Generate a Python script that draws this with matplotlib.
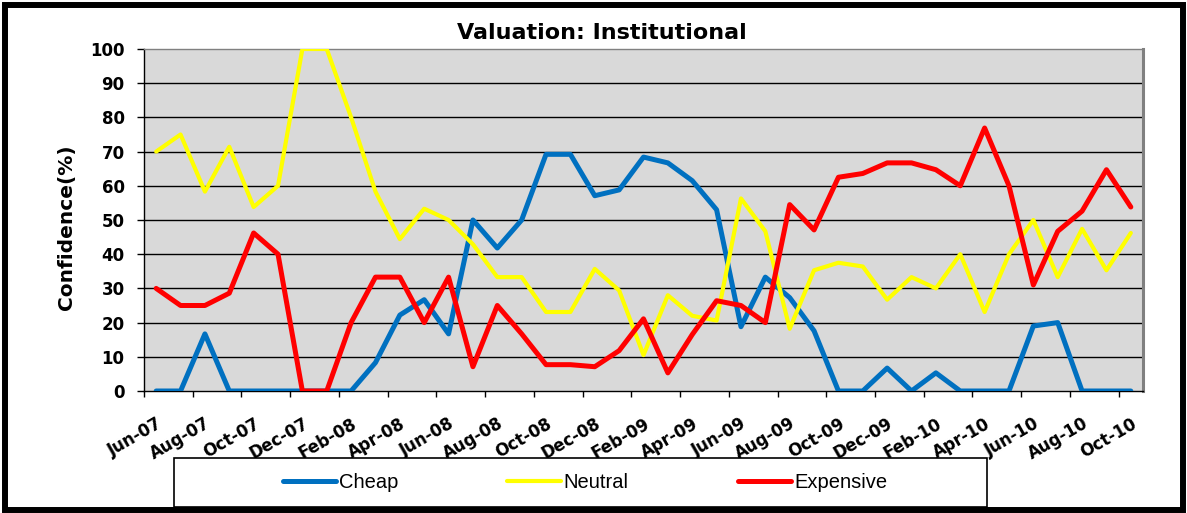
import matplotlib
matplotlib.use('Agg')
import matplotlib.pyplot as plt
from matplotlib.patches import Rectangle
from matplotlib.lines import Line2D

months = ["Jun-07", "Jul-07", "Aug-07", "Sep-07", "Oct-07", "Nov-07", "Dec-07",
          "Jan-08", "Feb-08", "Mar-08", "Apr-08", "May-08", "Jun-08", "Jul-08",
          "Aug-08", "Sep-08", "Oct-08", "Nov-08", "Dec-08", "Jan-09", "Feb-09",
          "Mar-09", "Apr-09", "May-09", "Jun-09", "Jul-09", "Aug-09", "Sep-09",
          "Oct-09", "Nov-09", "Dec-09", "Jan-10", "Feb-10", "Mar-10", "Apr-10",
          "May-10", "Jun-10", "Jul-10", "Aug-10", "Sep-10", "Oct-10"]

cheap = [0, 0, 16.7, 0, 0, 0, 0, 0, 0, 8.3, 22.2, 26.7, 16.7, 50, 41.8, 50,
         69.2, 69.2, 57.1, 58.8, 68.4, 66.7, 61.5, 53, 18.8, 33.3, 27.3, 17.6,
         0, 0, 6.7, 0, 5.3, 0, 0, 0, 19, 20, 0, 0, 0]
neutral = [70, 75, 58.3, 71.4, 53.8, 60, 100, 100, 80, 58.3, 44.4, 53.3, 50,
           42.9, 33.3, 33.3, 23.1, 23.1, 35.7, 29.4, 10.5, 28, 22, 20.6, 56.3,
           46.7, 18.2, 35.3, 37.5, 36.4, 26.7, 33.3, 30, 40, 23.1, 40, 50, 33.3,
           47.4, 35.3, 46.2]
expensive = [30, 25, 25, 28.6, 46.2, 40, 0, 0, 20, 33.3, 33.3, 20, 33.3, 7.1,
             25, 16.7, 7.7, 7.7, 7.1, 11.8, 21.1, 5.3, 16.5, 26.4, 25, 20, 54.5,
             47.1, 62.5, 63.6, 66.7, 66.7, 64.7, 60, 76.9, 60, 31, 46.7, 52.6,
             64.7, 53.8]

series_names = ["Cheap", "Neutral", "Expensive"]
tick_labels = ["Jun-07", "Aug-07", "Oct-07", "Dec-07", "Feb-08", "Apr-08",
               "Jun-08", "Aug-08", "Oct-08", "Dec-08", "Feb-09", "Apr-09",
               "Jun-09", "Aug-09", "Oct-09", "Dec-09", "Feb-10", "Apr-10",
               "Jun-10", "Aug-10", "Oct-10"]

W, H = 1187, 513
fig = plt.figure(figsize=(W / 100, H / 100), dpi=100)
fig.patch.set_facecolor('white')


def fx(px):
    return px / W


def fy(py):
    return 1 - py / H


ax = fig.add_axes([fx(144), fy(391), (1143 - 144) / W, (391 - 49) / H])
ax.set_facecolor('#D9D9D9')

x = list(range(len(months)))
colors = ['#0070C0', '#FFFF00', '#FF0000']
widths = [3.6, 3.0, 3.6]
handles = []
for vals, name, c, lw in zip([cheap, neutral, expensive], series_names, colors, widths):
    ln, = ax.plot(x, vals, color=c, lw=lw, label=name, solid_joinstyle='round',
                  solid_capstyle='round', zorder=3)
    handles.append(ln)

ax.set_xlim(-0.5, len(months) - 0.5)
ax.set_ylim(0, 100)
ax.set_yticks(range(0, 101, 10))
ax.yaxis.grid(True, color='black', lw=1.0)
ax.set_axisbelow(True)
gl = ax.yaxis.get_gridlines()
gl[-1].set_visible(False)
gl[0].set_visible(False)

# x ticks: marks at category boundaries, labels at every 2nd category
boundaries = [-0.5 + 2 * k for k in range(len(tick_labels))]
label_pos = [months.index(t) for t in tick_labels]
ax.set_xticks(boundaries)
ax.set_xticklabels([])
ax.set_xticks(label_pos, minor=True)
ax.set_xticklabels(tick_labels, minor=True, rotation=30, ha='right',
                   va='top', rotation_mode='anchor', fontweight='bold', fontsize=12)
ax.tick_params(axis='x', which='minor', length=0, pad=17)
ax.tick_params(axis='x', which='major', length=4.5, width=1, direction='out', color='black')
ax.tick_params(axis='y', length=5, width=1, pad=9, labelsize=12, color='black')
for lab in ax.get_yticklabels():
    lab.set_fontweight('bold')

for s in ['left', 'bottom']:
    ax.spines[s].set_color('black')
    ax.spines[s].set_linewidth(1.0)
ax.spines['top'].set_color('#808080')
ax.spines['top'].set_linewidth(1.0)
ax.spines['right'].set_color('#808080')
ax.spines['right'].set_linewidth(2.2)

fig.text(fx(602), fy(39), 'Valuation: Institutional', ha='center', va='baseline',
         fontsize=16, fontweight='bold')
fig.text(fx(72), fy(227), 'Confidence(%)', rotation=90, rotation_mode='anchor',
         ha='center', va='baseline', fontsize=14.5, fontweight='bold')

# legend box
fig.add_artist(Rectangle((fx(174), fy(507)), (987 - 174) / W, (507 - 458) / H,
                         transform=fig.transFigure, facecolor='white',
                         edgecolor='black', lw=1.2, zorder=1))
fig.legend(handles, series_names, loc='center', bbox_to_anchor=(fx(585), fy(483)),
           ncol=3, frameon=False, handlelength=2.65, handletextpad=0.15,
           columnspacing=5.4, prop={'family': 'Liberation Sans', 'size': 14.5})

# outer frame
fig.add_artist(Rectangle((fx(5), fy(510)), (1183 - 5) / W, (510 - 5) / H,
                         transform=fig.transFigure, fill=False,
                         edgecolor='black', lw=4.3, zorder=10))

fig.savefig('out.png', dpi=100, facecolor='white')
